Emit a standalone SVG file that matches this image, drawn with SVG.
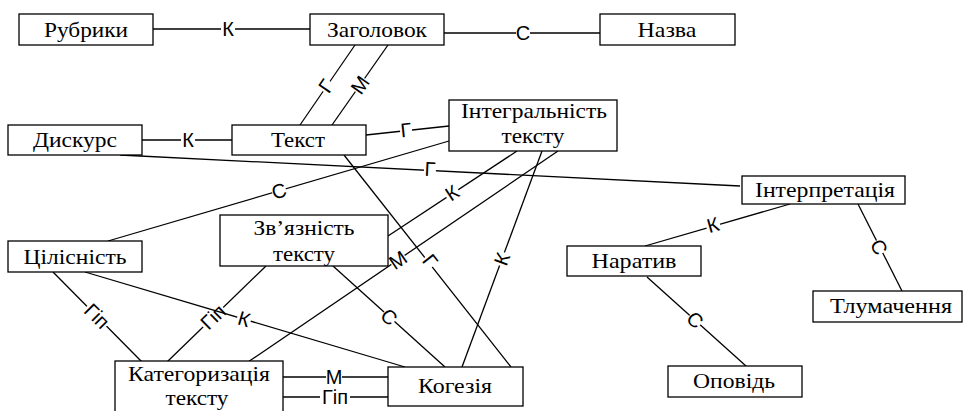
<svg xmlns="http://www.w3.org/2000/svg" width="963" height="411" viewBox="0 0 963 411">
<style>
rect.n{fill:#fff;stroke:#000;stroke-width:1.3}
#connectors line{stroke:#000;stroke-width:1.3}
#connectors rect{fill:#fff;stroke:none}
</style>
<rect width="963" height="411" fill="#fff"/>
<g id="connectors">
<line x1="153" y1="29" x2="310" y2="29"/><g transform="translate(228,29)"><rect x="-7" y="-8" width="14" height="16"/><text y="7" font-family="Liberation Sans" font-size="20" text-anchor="middle">К</text></g>
<line x1="444" y1="33" x2="600" y2="33"/><g transform="translate(523,33)"><rect x="-7" y="-8" width="14" height="16"/><text y="7" font-family="Liberation Sans" font-size="20" text-anchor="middle">С</text></g>
<line x1="355" y1="45" x2="300" y2="125"/><g transform="translate(326,86) rotate(-55.5)"><rect x="-6" y="-8" width="12" height="16"/><text y="7" font-family="Liberation Sans" font-size="20" text-anchor="middle">Г</text></g>
<line x1="388" y1="45" x2="332" y2="125"/><g transform="translate(360,85) rotate(-55)"><rect x="-8" y="-8" width="16" height="16"/><text y="7" font-family="Liberation Sans" font-size="20" text-anchor="middle">М</text></g>
<line x1="142" y1="140" x2="232" y2="140"/><g transform="translate(188,140)"><rect x="-7" y="-8" width="14" height="16"/><text y="7" font-family="Liberation Sans" font-size="20" text-anchor="middle">К</text></g>
<line x1="366" y1="135" x2="449" y2="126"/><g transform="translate(406,130) rotate(-6)"><rect x="-6" y="-8" width="12" height="16"/><text y="7" font-family="Liberation Sans" font-size="20" text-anchor="middle">Г</text></g>
<line x1="120" y1="155" x2="740" y2="186"/><g transform="translate(430,169) rotate(2.9)"><rect x="-6" y="-8" width="12" height="16"/><text y="7" font-family="Liberation Sans" font-size="20" text-anchor="middle">Г</text></g>
<line x1="108" y1="241" x2="449" y2="141"/><g transform="translate(279,191) rotate(-16.3)"><rect x="-7" y="-8" width="14" height="16"/><text y="7" font-family="Liberation Sans" font-size="20" text-anchor="middle">С</text></g>
<line x1="344" y1="155" x2="511" y2="367"/><g transform="translate(430,261) rotate(51.8)"><rect x="-6" y="-8" width="12" height="16"/><text y="7" font-family="Liberation Sans" font-size="20" text-anchor="middle">Г</text></g>
<line x1="517" y1="151" x2="388" y2="236"/><g transform="translate(452,193) rotate(-33.4)"><rect x="-7" y="-8" width="14" height="16"/><text y="7" font-family="Liberation Sans" font-size="20" text-anchor="middle">К</text></g>
<line x1="558" y1="151" x2="248" y2="362"/><g transform="translate(398,260) rotate(-34.2)"><rect x="-8" y="-8" width="16" height="16"/><text y="7" font-family="Liberation Sans" font-size="20" text-anchor="middle">М</text></g>
<line x1="542" y1="151" x2="462" y2="367"/><g transform="translate(502,259) rotate(-69.7)"><rect x="-7" y="-8" width="14" height="16"/><text y="7" font-family="Liberation Sans" font-size="20" text-anchor="middle">К</text></g>
<line x1="53" y1="272" x2="142" y2="362"/><g transform="translate(97,316) rotate(45.3)"><rect x="-14" y="-8" width="28" height="16"/><text y="7" font-family="Liberation Sans" font-size="20" text-anchor="middle">Гіп</text></g>
<line x1="266" y1="266" x2="167" y2="362"/><g transform="translate(213,317) rotate(-44)"><rect x="-14" y="-8" width="28" height="16"/><text y="7" font-family="Liberation Sans" font-size="20" text-anchor="middle">Гіп</text></g>
<line x1="85" y1="272" x2="405" y2="367"/><g transform="translate(244,319) rotate(16.5)"><rect x="-7" y="-8" width="14" height="16"/><text y="7" font-family="Liberation Sans" font-size="20" text-anchor="middle">К</text></g>
<line x1="333" y1="266" x2="445" y2="367"/><g transform="translate(389,317) rotate(42)"><rect x="-7" y="-8" width="14" height="16"/><text y="7" font-family="Liberation Sans" font-size="20" text-anchor="middle">С</text></g>
<line x1="283" y1="377" x2="388" y2="377"/><g transform="translate(334,377)"><rect x="-8" y="-8" width="16" height="16"/><text y="7" font-family="Liberation Sans" font-size="20" text-anchor="middle">М</text></g>
<line x1="283" y1="397" x2="388" y2="397"/><g transform="translate(335,397)"><rect x="-15" y="-8" width="30" height="16"/><text y="7" font-family="Liberation Sans" font-size="20" text-anchor="middle">Гіп</text></g>
<line x1="790" y1="204" x2="645" y2="246"/><g transform="translate(713,225) rotate(-16)"><rect x="-7" y="-8" width="14" height="16"/><text y="7" font-family="Liberation Sans" font-size="20" text-anchor="middle">К</text></g>
<line x1="858" y1="204" x2="902" y2="291"/><g transform="translate(879,247) rotate(63)"><rect x="-7" y="-8" width="14" height="16"/><text y="7" font-family="Liberation Sans" font-size="20" text-anchor="middle">С</text></g>
<line x1="647" y1="277" x2="746" y2="366"/><g transform="translate(695,320) rotate(42)"><rect x="-7" y="-8" width="14" height="16"/><text y="7" font-family="Liberation Sans" font-size="20" text-anchor="middle">С</text></g>
</g>
<g id="nodes">
<g id="n-rubryky"><rect class="n" x="19" y="14" width="134" height="31"/><text x="86" y="37" font-family="Liberation Serif" font-size="22" text-anchor="middle" textLength="84" lengthAdjust="spacingAndGlyphs">Рубрики</text></g>
<g id="n-zaholovok"><rect class="n" x="310" y="14" width="134" height="31"/><text x="377" y="37" font-family="Liberation Serif" font-size="22" text-anchor="middle" textLength="100" lengthAdjust="spacingAndGlyphs">Заголовок</text></g>
<g id="n-nazva"><rect class="n" x="600" y="14" width="135" height="31"/><text x="667" y="37" font-family="Liberation Serif" font-size="22" text-anchor="middle" textLength="59" lengthAdjust="spacingAndGlyphs">Назва</text></g>
<g id="n-dyskurs"><rect class="n" x="8" y="125" width="134" height="30"/><text x="75" y="147" font-family="Liberation Serif" font-size="22" text-anchor="middle" textLength="84" lengthAdjust="spacingAndGlyphs">Дискурс</text></g>
<g id="n-tekst"><rect class="n" x="232" y="125" width="134" height="30"/><text x="298" y="147" font-family="Liberation Serif" font-size="22" text-anchor="middle" textLength="54" lengthAdjust="spacingAndGlyphs">Текст</text></g>
<g id="n-intehralnist"><rect class="n" x="449" y="100" width="168" height="51"/><text x="534" y="118" font-family="Liberation Serif" font-size="22" text-anchor="middle" textLength="146" lengthAdjust="spacingAndGlyphs">Інтегральність</text><text x="533" y="143" font-family="Liberation Serif" font-size="22" text-anchor="middle" textLength="63" lengthAdjust="spacingAndGlyphs">тексту</text></g>
<g id="n-interpretatsiia"><rect class="n" x="742" y="176" width="163" height="28"/><text x="825" y="197" font-family="Liberation Serif" font-size="22" text-anchor="middle" textLength="140" lengthAdjust="spacingAndGlyphs">Інтерпретація</text></g>
<g id="n-tsilisnist"><rect class="n" x="8" y="241" width="134" height="31"/><text x="75" y="264" font-family="Liberation Serif" font-size="22" text-anchor="middle" textLength="103" lengthAdjust="spacingAndGlyphs">Цілісність</text></g>
<g id="n-zviaznist"><rect class="n" x="220" y="215" width="168" height="51"/><text x="304" y="235" font-family="Liberation Serif" font-size="22" text-anchor="middle" textLength="101" lengthAdjust="spacingAndGlyphs">Зв’язність</text><text x="304" y="261" font-family="Liberation Serif" font-size="22" text-anchor="middle" textLength="62" lengthAdjust="spacingAndGlyphs">тексту</text></g>
<g id="n-naratyv"><rect class="n" x="567" y="246" width="134" height="30"/><text x="634" y="268" font-family="Liberation Serif" font-size="22" text-anchor="middle" textLength="85" lengthAdjust="spacingAndGlyphs">Наратив</text></g>
<g id="n-tlumachennia"><rect class="n" x="813" y="291" width="149" height="31"/><text x="891" y="313" font-family="Liberation Serif" font-size="22" text-anchor="middle" textLength="122" lengthAdjust="spacingAndGlyphs">Тлумачення</text></g>
<g id="n-katehoryzatsiia"><rect class="n" x="115" y="361" width="168" height="60"/><text x="199" y="381" font-family="Liberation Serif" font-size="22" text-anchor="middle" textLength="142" lengthAdjust="spacingAndGlyphs">Категоризація</text><text x="197" y="405" font-family="Liberation Serif" font-size="22" text-anchor="middle" textLength="63" lengthAdjust="spacingAndGlyphs">тексту</text></g>
<g id="n-koheziia"><rect class="n" x="388" y="367" width="135" height="39"/><text x="455" y="393" font-family="Liberation Serif" font-size="22" text-anchor="middle" textLength="74" lengthAdjust="spacingAndGlyphs">Когезія</text></g>
<g id="n-opovid"><rect class="n" x="668" y="366" width="134" height="31"/><text x="734" y="388" font-family="Liberation Serif" font-size="22" text-anchor="middle" textLength="82" lengthAdjust="spacingAndGlyphs">Оповідь</text></g>
</g>
</svg>
